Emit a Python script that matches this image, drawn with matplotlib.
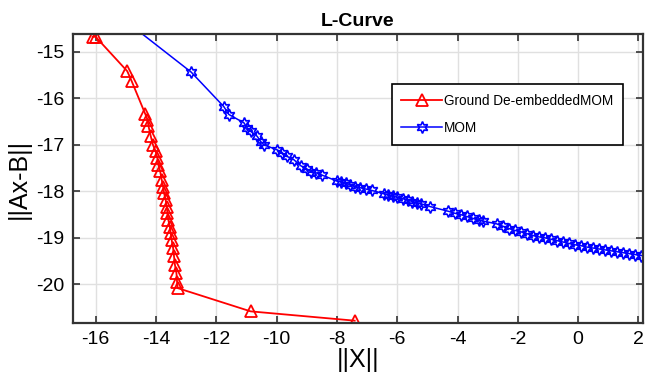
import matplotlib
matplotlib.use("Agg")
import matplotlib.pyplot as plt

# Ground De-embedded MOM (red, triangles)
gd_x = [-16.10, -16.00, -14.95, -14.80, -14.36, -14.28, -14.25, -14.17, -14.10,
        -14.01, -13.95, -13.92, -13.86, -13.81, -13.76, -13.73, -13.68, -13.64,
        -13.62, -13.59, -13.54, -13.51, -13.48, -13.43, -13.40, -13.37, -13.32,
        -13.30, -13.28, -10.86, -7.41]
gd_y = [-14.68, -14.68, -15.42, -15.64, -16.33, -16.46, -16.59, -16.82, -17.00,
        -17.14, -17.29, -17.43, -17.57, -17.75, -17.90, -18.04, -18.18, -18.33,
        -18.47, -18.61, -18.76, -18.90, -19.04, -19.22, -19.40, -19.58, -19.76,
        -19.94, -20.08, -20.58, -20.78]

# MOM (blue, hexagrams)
mom_x = [-15.50, -12.83, -11.75, -11.58, -11.08, -10.97, -10.86, -10.64, -10.53,
         -10.42, -9.98, -9.82, -9.65, -9.43, -9.20, -9.00, -8.85, -8.70, -8.50,
         -8.00, -7.85, -7.70, -7.55, -7.40, -7.25, -7.05, -6.85, -6.45, -6.30,
         -6.15, -6.00, -5.80, -5.65, -5.50, -5.35, -5.20, -4.90, -4.30, -4.10,
         -3.90, -3.70, -3.50, -3.30, -3.15, -2.70, -2.50, -2.30, -2.10, -1.90,
         -1.70, -1.50, -1.30, -1.10, -0.90, -0.70, -0.50, -0.30, -0.10, 0.10,
         0.30, 0.50, 0.70, 0.90, 1.10, 1.30, 1.50, 1.70, 1.90, 2.10]
mom_y = [-14.09, -15.44, -16.18, -16.35, -16.53, -16.64, -16.71, -16.82, -16.93,
         -17.00, -17.11, -17.18, -17.25, -17.32, -17.45, -17.52, -17.58, -17.60,
         -17.65, -17.78, -17.80, -17.83, -17.86, -17.90, -17.92, -17.95, -17.98,
         -18.05, -18.08, -18.10, -18.13, -18.16, -18.19, -18.22, -18.25, -18.27,
         -18.33, -18.43, -18.47, -18.50, -18.54, -18.58, -18.62, -18.64, -18.70,
         -18.75, -18.80, -18.84, -18.87, -18.91, -18.95, -18.98, -19.00, -19.03,
         -19.06, -19.09, -19.12, -19.15, -19.17, -19.20, -19.22, -19.24, -19.26,
         -19.28, -19.30, -19.32, -19.34, -19.36, -19.38]

x_ticks = [-16, -14, -12, -10, -8, -6, -4, -2, 0, 2]
y_ticks = [-20, -19, -18, -17, -16, -15]

plt.rcParams['font.family'] = ['Liberation Sans', 'DejaVu Sans']
plt.rcParams['axes.unicode_minus'] = False

fig = plt.figure(figsize=(6.47, 3.74), dpi=100)
ax = fig.add_axes([73/647, 1-323/374, 570/647, 289/374])

ax.plot(gd_x, gd_y, color='red', lw=1.3, marker='^', ms=8, mfc='none',
        mec='red', mew=1.3, label='Ground De-embeddedMOM', clip_on=True)
ax.plot(mom_x, mom_y, color='blue', lw=1.1, marker=(6, 1, 0), ms=8.5, mfc='none',
        mec='blue', mew=1.2, label='MOM')

ax.set_xlim(-16.75, 2.15)
ax.set_ylim(-20.83, -14.62)
ax.set_xticks(x_ticks)
ax.set_yticks(y_ticks)
ax.tick_params(direction='in', top=True, right=True, labelsize=14, length=5,
               width=1.2, color='#333333', pad=6)
ax.grid(True, color='#e0e0e0', lw=1.0)
for s in ax.spines.values():
    s.set_linewidth(1.6)
    s.set_color('#333333')

ax.set_title('L-Curve', fontsize=14, fontweight='bold', pad=6)
ax.set_xlabel('||X||', fontsize=18, labelpad=0)
ax.set_ylabel('||Ax-B||', fontsize=18, labelpad=4)

leg = ax.legend(loc='upper right', bbox_to_anchor=(0.965, 0.827), fontsize=9.8,
                frameon=True, fancybox=False, edgecolor='black',
                handlelength=3.0, handletextpad=0.15, borderpad=0.7,
                labelspacing=1.0, borderaxespad=0)
leg.get_frame().set_linewidth(1.2)
leg.get_frame().set_alpha(1)

fig.savefig('out.png', dpi=100)
